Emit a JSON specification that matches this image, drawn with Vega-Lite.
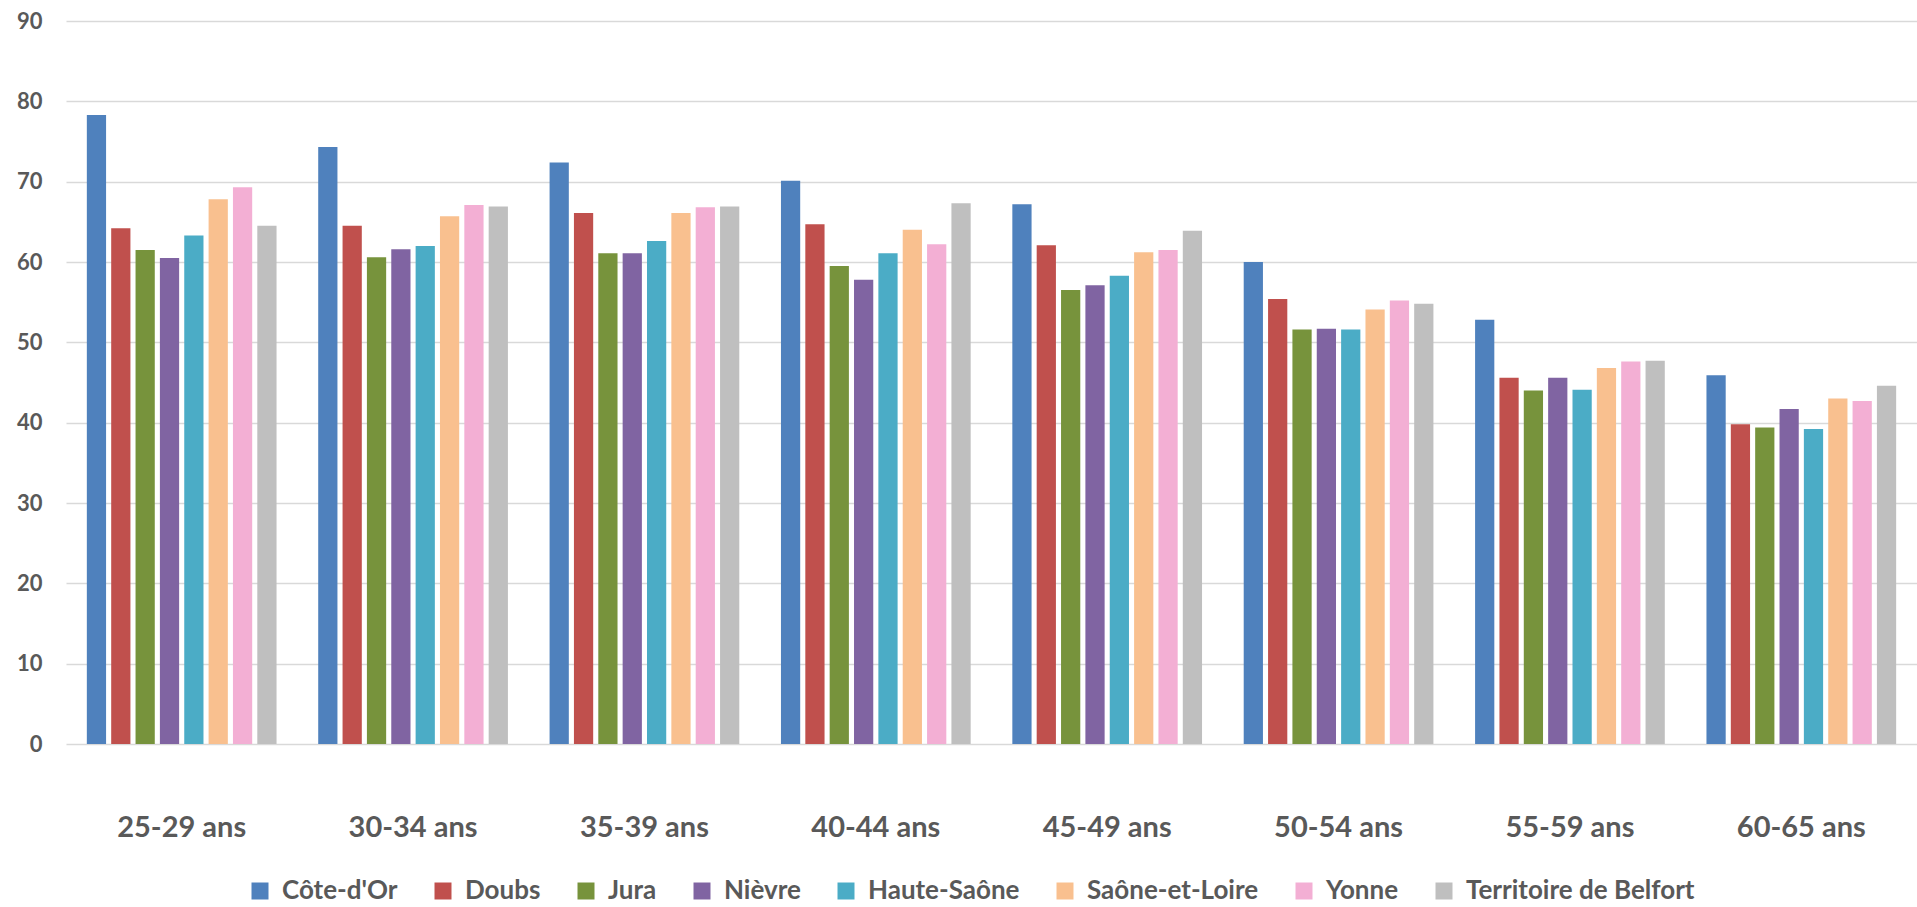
{
  "$schema": "https://vega.github.io/schema/vega-lite/v6.json",
  "width": 1851,
  "height": 723,
  "autosize": {"type": "none"},
  "padding": {"left": 66, "top": 21, "right": 0, "bottom": 163},
  "background": "white",
  "config": {
    "view": {"stroke": null},
    "font": "Lato"
  },
  "data": {
    "values": [
      {"age": "25-29 ans", "dept": "Côte-d'Or", "v": 78.3},
      {"age": "25-29 ans", "dept": "Doubs", "v": 64.2},
      {"age": "25-29 ans", "dept": "Jura", "v": 61.5},
      {"age": "25-29 ans", "dept": "Nièvre", "v": 60.5},
      {"age": "25-29 ans", "dept": "Haute-Saône", "v": 63.3},
      {"age": "25-29 ans", "dept": "Saône-et-Loire", "v": 67.8},
      {"age": "25-29 ans", "dept": "Yonne", "v": 69.3},
      {"age": "25-29 ans", "dept": "Territoire de Belfort", "v": 64.5},
      {"age": "30-34 ans", "dept": "Côte-d'Or", "v": 74.3},
      {"age": "30-34 ans", "dept": "Doubs", "v": 64.5},
      {"age": "30-34 ans", "dept": "Jura", "v": 60.6},
      {"age": "30-34 ans", "dept": "Nièvre", "v": 61.6},
      {"age": "30-34 ans", "dept": "Haute-Saône", "v": 62.0},
      {"age": "30-34 ans", "dept": "Saône-et-Loire", "v": 65.7},
      {"age": "30-34 ans", "dept": "Yonne", "v": 67.1},
      {"age": "30-34 ans", "dept": "Territoire de Belfort", "v": 66.9},
      {"age": "35-39 ans", "dept": "Côte-d'Or", "v": 72.4},
      {"age": "35-39 ans", "dept": "Doubs", "v": 66.1},
      {"age": "35-39 ans", "dept": "Jura", "v": 61.1},
      {"age": "35-39 ans", "dept": "Nièvre", "v": 61.1},
      {"age": "35-39 ans", "dept": "Haute-Saône", "v": 62.6},
      {"age": "35-39 ans", "dept": "Saône-et-Loire", "v": 66.1},
      {"age": "35-39 ans", "dept": "Yonne", "v": 66.8},
      {"age": "35-39 ans", "dept": "Territoire de Belfort", "v": 66.9},
      {"age": "40-44 ans", "dept": "Côte-d'Or", "v": 70.1},
      {"age": "40-44 ans", "dept": "Doubs", "v": 64.7},
      {"age": "40-44 ans", "dept": "Jura", "v": 59.5},
      {"age": "40-44 ans", "dept": "Nièvre", "v": 57.8},
      {"age": "40-44 ans", "dept": "Haute-Saône", "v": 61.1},
      {"age": "40-44 ans", "dept": "Saône-et-Loire", "v": 64.0},
      {"age": "40-44 ans", "dept": "Yonne", "v": 62.2},
      {"age": "40-44 ans", "dept": "Territoire de Belfort", "v": 67.3},
      {"age": "45-49 ans", "dept": "Côte-d'Or", "v": 67.2},
      {"age": "45-49 ans", "dept": "Doubs", "v": 62.1},
      {"age": "45-49 ans", "dept": "Jura", "v": 56.5},
      {"age": "45-49 ans", "dept": "Nièvre", "v": 57.1},
      {"age": "45-49 ans", "dept": "Haute-Saône", "v": 58.3},
      {"age": "45-49 ans", "dept": "Saône-et-Loire", "v": 61.2},
      {"age": "45-49 ans", "dept": "Yonne", "v": 61.5},
      {"age": "45-49 ans", "dept": "Territoire de Belfort", "v": 63.9},
      {"age": "50-54 ans", "dept": "Côte-d'Or", "v": 60.0},
      {"age": "50-54 ans", "dept": "Doubs", "v": 55.4},
      {"age": "50-54 ans", "dept": "Jura", "v": 51.6},
      {"age": "50-54 ans", "dept": "Nièvre", "v": 51.7},
      {"age": "50-54 ans", "dept": "Haute-Saône", "v": 51.6},
      {"age": "50-54 ans", "dept": "Saône-et-Loire", "v": 54.1},
      {"age": "50-54 ans", "dept": "Yonne", "v": 55.2},
      {"age": "50-54 ans", "dept": "Territoire de Belfort", "v": 54.8},
      {"age": "55-59 ans", "dept": "Côte-d'Or", "v": 52.8},
      {"age": "55-59 ans", "dept": "Doubs", "v": 45.6},
      {"age": "55-59 ans", "dept": "Jura", "v": 44.0},
      {"age": "55-59 ans", "dept": "Nièvre", "v": 45.6},
      {"age": "55-59 ans", "dept": "Haute-Saône", "v": 44.1},
      {"age": "55-59 ans", "dept": "Saône-et-Loire", "v": 46.8},
      {"age": "55-59 ans", "dept": "Yonne", "v": 47.6},
      {"age": "55-59 ans", "dept": "Territoire de Belfort", "v": 47.7},
      {"age": "60-65 ans", "dept": "Côte-d'Or", "v": 45.9},
      {"age": "60-65 ans", "dept": "Doubs", "v": 39.8},
      {"age": "60-65 ans", "dept": "Jura", "v": 39.4},
      {"age": "60-65 ans", "dept": "Nièvre", "v": 41.7},
      {"age": "60-65 ans", "dept": "Haute-Saône", "v": 39.2},
      {"age": "60-65 ans", "dept": "Saône-et-Loire", "v": 43.0},
      {"age": "60-65 ans", "dept": "Yonne", "v": 42.7},
      {"age": "60-65 ans", "dept": "Territoire de Belfort", "v": 44.6}
    ]
  },
  "mark": {"type": "bar"},
  "encoding": {
    "x": {
      "field": "age",
      "type": "nominal",
      "sort": null,
      "scale": {"paddingInner": 0.158, "paddingOuter": 0.079},
      "axis": {
        "title": null,
        "labelAngle": 0,
        "labelFont": "Lato",
        "labelFontWeight": "bold",
        "labelFontSize": 29,
        "labelColor": "#595959",
        "labelPadding": 83,
        "labelBaseline": "middle",
        "domain": false,
        "ticks": false
      }
    },
    "xOffset": {
      "field": "dept",
      "type": "nominal",
      "sort": ["Côte-d'Or", "Doubs", "Jura", "Nièvre", "Haute-Saône", "Saône-et-Loire", "Yonne", "Territoire de Belfort"],
      "scale": {"paddingInner": 0.21, "paddingOuter": 0.105}
    },
    "y": {
      "field": "v",
      "type": "quantitative",
      "scale": {"domain": [0, 90], "nice": false},
      "axis": {
        "title": null,
        "values": [0, 10, 20, 30, 40, 50, 60, 70, 80, 90],
        "labelFont": "Lato",
        "labelFontWeight": "bold",
        "labelFontSize": 22,
        "labelColor": "#595959",
        "labelPadding": 24,
        "domain": false,
        "ticks": false,
        "grid": true,
        "gridColor": "#D9D9D9",
        "gridWidth": 1.5
      }
    },
    "color": {
      "field": "dept",
      "type": "nominal",
      "sort": ["Côte-d'Or", "Doubs", "Jura", "Nièvre", "Haute-Saône", "Saône-et-Loire", "Yonne", "Territoire de Belfort"],
      "scale": {
        "domain": ["Côte-d'Or", "Doubs", "Jura", "Nièvre", "Haute-Saône", "Saône-et-Loire", "Yonne", "Territoire de Belfort"],
        "range": ["#4F81BD", "#C0504D", "#77933C", "#8064A2", "#4BACC6", "#F9C08F", "#F3AFD4", "#BFBFBF"]
      },
      "legend": {
        "title": null,
        "orient": "none",
        "direction": "horizontal",
        "legendX": 181,
        "legendY": 857,
        "padding": 0,
        "symbolType": "square",
        "symbolSize": 289,
        "symbolStrokeWidth": 0,
        "labelFont": "Lato",
        "labelFontWeight": "bold",
        "labelFontSize": 26,
        "labelColor": "#595959",
        "labelOffset": 9,
        "labelLimit": 1000,
        "columnPadding": 32
      }
    }
  }
}
